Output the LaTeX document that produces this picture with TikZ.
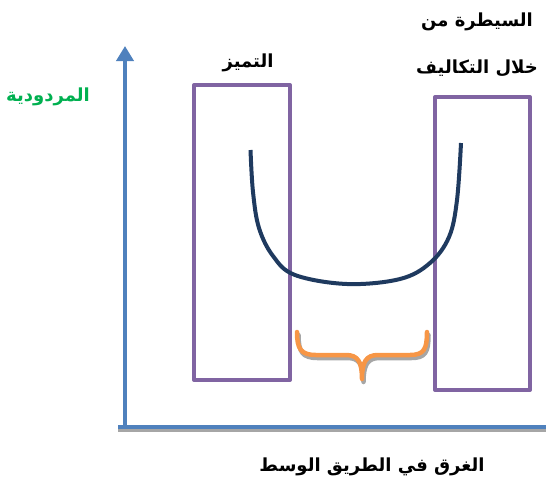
\documentclass[tikz,border=0pt]{standalone}
\usepackage{fontspec}
\newfontfamily\arabicfont[Script=Arabic]{DejaVu Sans}
\TeXXeTstate=1
\usetikzlibrary{arrows.meta}
\definecolor{axisblue}{HTML}{4F81BD}
\definecolor{boxpurple}{HTML}{8064A2}
\definecolor{curvenavy}{HTML}{1F3A5F}
\definecolor{braceorange}{HTML}{F79646}
\definecolor{labelgreen}{HTML}{00B050}
\tikzset{
	lbl/.style={font=\arabicfont\bfseries\fontsize{18}{21}\selectfont, inner sep=0pt},
	box/.style={draw=boxpurple, line width=4pt},
	axis/.style={draw=axisblue, line width=4.5pt},
	shade/.style={draw=black!35, line width=4.5pt},
}
\begin{document}
\begin{tikzpicture}[x=1pt, y=-1pt, line join=round]
	\useasboundingbox (0,0) rectangle (546,488);
	\path
	(125,426) coordinate (O)
	(125,46) coordinate (Y)
	(118,427) coordinate (X0)
	(546,427) coordinate (X)
	;
	% axes
	\draw[shade] ([yshift=-3pt]X0)--([yshift=-3pt]X);
	\draw[axis] (X0)--(X);
	\draw[axis, -{Triangle[width=17pt,length=15pt]}] (O)--(Y);
	% the two strategies
	\draw[box] (194,85) rectangle (290,380);
	\draw[box] (435,97) rectangle (530,390);
	% the U curve
	\draw[curvenavy, line width=4pt, line cap=butt] plot[smooth, tension=0.6] coordinates
	{(250.5,150) (253,192) (259,228) (273,256) (295,275) (347,284) (400,279) (430,263) (449,237) (457,200) (461,143)};
	% brace
	\foreach \c/\dx/\dy in {black!35/1.5/3, braceorange/0/0}
	\draw[\c, line width=4.5pt, line cap=round, shift={(\dx,\dy)}]
	(297,332) .. controls (297,349) and (301,355) .. (316,355) -- (346,355)
	.. controls (358,355) and (362,362) .. (362,379)
	.. controls (362,362) and (366,355) .. (378,355) -- (410,355)
	.. controls (424,355) and (427,349) .. (427,332);
	% labels
	\node[lbl, text=labelgreen] (yl) at (48,97) {\arabicfont\beginR المردودية\endR};
	\node[lbl] (l1) at (248,63) {\arabicfont\beginR التميز\endR};
	\node[lbl] (l2) at (477,22) {\arabicfont\beginR السيطرة من\endR};
	\node[lbl] (l3) at (477,68) {\arabicfont\beginR خلال التكاليف\endR};
	\node[lbl] (xl) at (372,467) {\arabicfont\beginR الغرق في الطريق الوسط\endR};
\end{tikzpicture}
\end{document}
